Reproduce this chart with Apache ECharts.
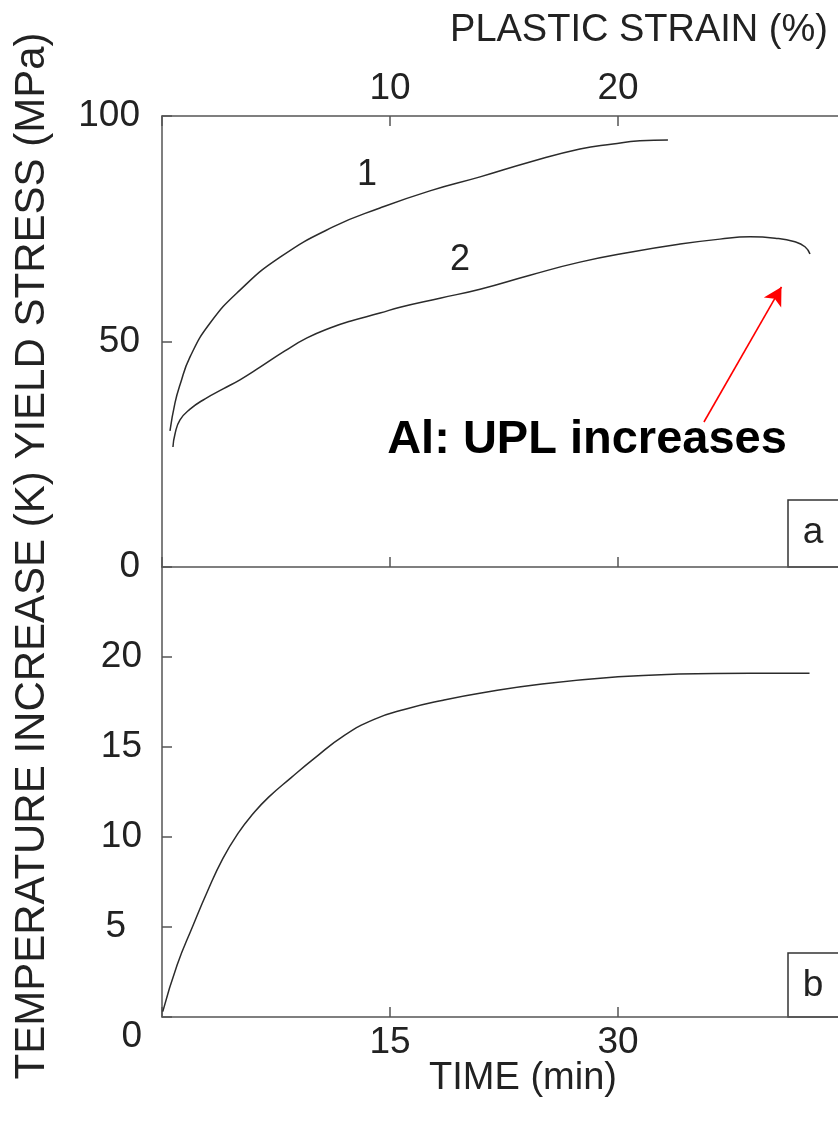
<!DOCTYPE html>
<html>
<head>
<meta charset="utf-8">
<script src="https://cdn.jsdelivr.net/npm/echarts@6/dist/echarts.min.js"></script>
<style>
  html, body { margin: 0; padding: 0; background: #fff; }
  #chart { width: 838px; height: 1123px; }
</style>
</head>
<body>
<div id="chart"></div>
<script>
// Panel (a): yield stress vs plastic strain, curves 1 and 2
const strain1 = [0.35, 0.57, 0.79, 1.23, 2.11, 3.42, 5.18, 7.5, 9.56, 11.75, 13.95, 16.14, 18.33, 19.78, 20.96, 22.19];
const stress1 = [30.2, 36.4, 40.4, 46.6, 54.1, 61.4, 68.7, 75.4, 79.6, 83.4, 86.5, 89.8, 92.7, 93.8, 94.5, 94.7];

const strain2 = [0.48, 0.57, 0.79, 1.23, 1.89, 2.68, 3.42, 4.30, 5.39, 6.36, 7.37, 8.25, 9.56, 10.44, 12.19, 13.95, 16.14, 18.33, 20.53, 22.72, 24.47, 25.79, 26.89, 27.76, 28.20, 28.42];
const stress2 = [26.6, 29.5, 32.6, 35.0, 37.3, 39.5, 41.5, 44.3, 47.9, 50.8, 53.0, 54.5, 56.3, 57.6, 59.6, 61.6, 64.7, 67.6, 69.8, 71.6, 72.7, 73.2, 72.9, 72.1, 71.0, 69.4];

// Panel (b): temperature increase vs time
const timeB = [0.05, 1.0, 2.0, 3.0, 4.0, 5.0, 6.0, 7.0, 8.5, 10, 12, 14, 16, 18.5, 21, 25, 30, 34, 38.7, 42.6];
const tempB = [0.3, 2.9, 5.0, 7.0, 8.8, 10.2, 11.3, 12.2, 13.3, 14.35, 15.65, 16.55, 17.1, 17.6, 18.0, 18.5, 18.9, 19.05, 19.1, 19.1];

// Tick labels that are printed
const strainTickLabels = [10, 20];
const timeTickLabels = [15, 30];
const stressTickLabels = [0, 50, 100];
const tempTickLabels = [0, 5, 10, 15, 20];

// Curve labels and the arrow to curve 2 (strain %, stress MPa)
const curveNames = ['1', '2'];
const curveNamePos = [[8.99, 86.9], [13.07, 68.1]];
const arrowFrom = [23.77, 32.15];
const arrowTo = [27.17, 62.1];

const zip = (xs, ys) => xs.map((x, i) => [x, ys[i]]);

const FONT = "'Liberation Sans', Arial, Helvetica, sans-serif";
const AXIS_COLOR = '#555';
const LINE_COLOR = '#2b2b2b';
const TEXT_COLOR = '#222';

const axisLine = { show: true, onZero: false, lineStyle: { color: AXIS_COLOR, width: 1.5 } };
const tickIn = { show: true, inside: true, length: 10, lineStyle: { color: AXIS_COLOR, width: 1.5 } };
const labelStyle = { color: TEXT_COLOR, fontFamily: FONT, fontSize: 37 };
const onlyThese = list => v => (list.indexOf(v) >= 0 ? String(v) : '');
const curveStyle = { color: LINE_COLOR, width: 1.5 };

const chart = echarts.init(document.getElementById('chart'), null, { renderer: 'canvas' });

const option = {
  backgroundColor: '#fff',
  animation: false,
  grid: [
    { left: 162, right: -8, top: 116, height: 451, containLabel: false, outerBoundsMode: 'none' },
    { left: 162, right: -8, top: 567, height: 450, containLabel: false, outerBoundsMode: 'none' }
  ],
  xAxis: [
    { // time axis under panel (a): ticks only
      type: 'value', gridIndex: 0, position: 'bottom', min: 0, max: 45, interval: 15,
      axisLine, axisTick: tickIn, axisLabel: { show: false }, splitLine: { show: false }
    },
    { // plastic strain axis on top of panel (a)
      type: 'value', gridIndex: 0, position: 'top', min: 0, max: 30, interval: 10,
      axisLine, axisTick: tickIn,
      axisLabel: Object.assign({ margin: 9, formatter: onlyThese(strainTickLabels) }, labelStyle),
      splitLine: { show: false }
    },
    { // time axis of panel (b)
      type: 'value', gridIndex: 1, position: 'bottom', min: 0, max: 45, interval: 15,
      axisLine, axisTick: tickIn,
      axisLabel: Object.assign({ margin: 7, formatter: onlyThese(timeTickLabels) }, labelStyle),
      splitLine: { show: false }
    }
  ],
  yAxis: [
    {
      type: 'value', gridIndex: 0, min: 0, max: 100, interval: 50,
      axisLine, axisTick: tickIn,
      axisLabel: Object.assign({ margin: 22, formatter: onlyThese(stressTickLabels) }, labelStyle),
      splitLine: { show: false }
    },
    {
      type: 'value', gridIndex: 1, min: 0, max: 25, interval: 5,
      axisLine, axisTick: tickIn,
      axisLabel: Object.assign({
        margin: 20,
        formatter: v => {
          if (tempTickLabels.indexOf(v) < 0) return '';
          if (v === 0) return '{low|0}';
          if (v === 5) return '{left|5}';
          return String(v);
        },
        rich: {
          low: { fontFamily: FONT, fontSize: 37, color: TEXT_COLOR, padding: [40, 0, 0, 0] },
          left: { fontFamily: FONT, fontSize: 37, color: TEXT_COLOR, padding: [0, 16, 0, 0] }
        }
      }, labelStyle),
      splitLine: { show: false }
    }
  ],
  series: [
    {
      name: 'curve 1', type: 'line', xAxisIndex: 1, yAxisIndex: 0,
      data: zip(strain1, stress1), smooth: 0.5, showSymbol: false, symbol: 'none',
      lineStyle: curveStyle,
      markPoint: {
        symbol: 'circle', symbolSize: 0, silent: true,
        label: { show: true, color: TEXT_COLOR, fontFamily: FONT, fontSize: 36, formatter: p => p.name },
        data: [{ name: curveNames[0], coord: curveNamePos[0] }]
      }
    },
    {
      name: 'curve 2', type: 'line', xAxisIndex: 1, yAxisIndex: 0,
      data: zip(strain2, stress2), smooth: 0.5, showSymbol: false, symbol: 'none',
      lineStyle: curveStyle,
      markPoint: {
        symbol: 'circle', symbolSize: 0, silent: true,
        label: { show: true, color: TEXT_COLOR, fontFamily: FONT, fontSize: 36, formatter: p => p.name },
        data: [{ name: curveNames[1], coord: curveNamePos[1] }]
      },
      markLine: {
        silent: true,
        symbol: ['none', 'arrow'],
        symbolSize: [15, 18],
        label: { show: false },
        lineStyle: { color: '#ff0000', width: 1.6, type: 'solid' },
        data: [[{ coord: arrowFrom }, { coord: arrowTo }]]
      }
    },
    {
      name: 'temperature', type: 'line', xAxisIndex: 2, yAxisIndex: 1,
      data: zip(timeB, tempB), smooth: 0.5, showSymbol: false, symbol: 'none',
      lineStyle: curveStyle
    }
  ],
  graphic: [
    {
      type: 'text', x: 639, y: 31,
      style: { text: 'PLASTIC STRAIN (%)', font: '38px ' + FONT, fill: TEXT_COLOR, align: 'center', verticalAlign: 'middle' }
    },
    {
      type: 'text', x: 523, y: 1079,
      style: { text: 'TIME (min)', font: '38px ' + FONT, fill: TEXT_COLOR, align: 'center', verticalAlign: 'middle' }
    },
    {
      type: 'text', x: 32, y: 556, rotation: Math.PI / 2,
      style: { text: 'TEMPERATURE INCREASE (K) YIELD STRESS (MPa)', font: '42px ' + FONT, fill: TEXT_COLOR, align: 'center', verticalAlign: 'middle' }
    },
    {
      type: 'text', x: 587, y: 440,
      style: { text: 'Al: UPL increases', font: 'bold 47px ' + FONT, fill: '#000', align: 'center', verticalAlign: 'middle' }
    },
    {
      type: 'rect', shape: { x: 788, y: 500, width: 60, height: 67 },
      style: { fill: '#fff', stroke: '#333', lineWidth: 1.5 }
    },
    {
      type: 'text', x: 813, y: 533,
      style: { text: 'a', font: '37px ' + FONT, fill: TEXT_COLOR, align: 'center', verticalAlign: 'middle' }
    },
    {
      type: 'rect', shape: { x: 788, y: 953, width: 60, height: 64 },
      style: { fill: '#fff', stroke: '#333', lineWidth: 1.5 }
    },
    {
      type: 'text', x: 813, y: 986,
      style: { text: 'b', font: '37px ' + FONT, fill: TEXT_COLOR, align: 'center', verticalAlign: 'middle' }
    }
  ]
};

chart.setOption(option);
</script>
</body>
</html>
